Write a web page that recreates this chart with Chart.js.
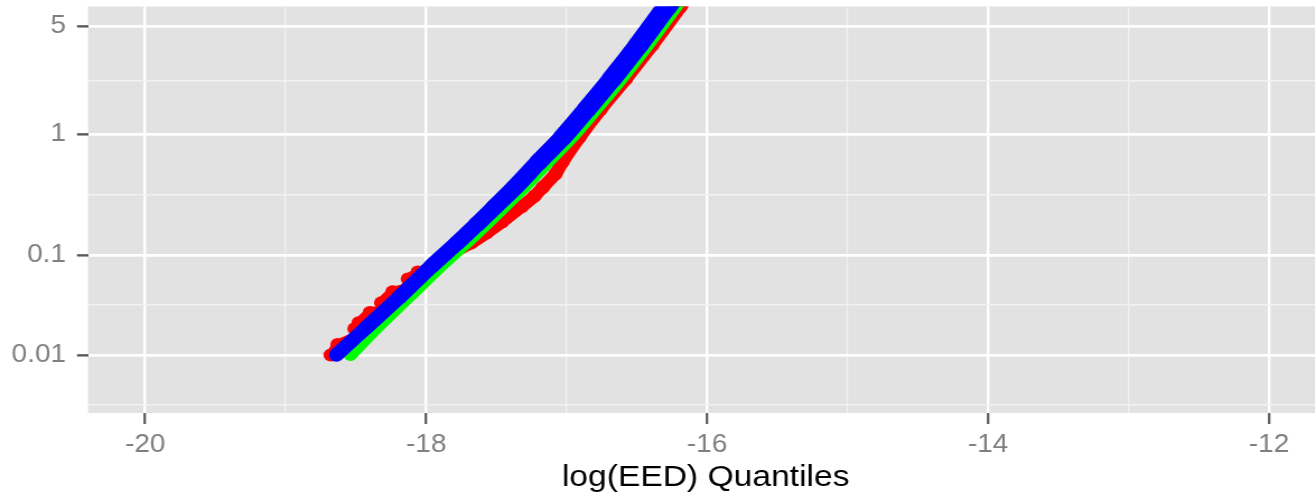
<!DOCTYPE html>
<html><head><meta charset="utf-8">
<script src="https://cdn.jsdelivr.net/npm/chart.js@4"></script>
<style>
html,body{margin:0;padding:0;background:#fff;overflow:hidden;width:1315px;height:496px;}
#wrap{width:1188px;height:496px;transform:scaleX(1.12);transform-origin:0 0;}
canvas{display:block;}
</style></head><body>
<div id="wrap"><canvas id="c" width="1188" height="496"></canvas></div>
<script>
// Quantile levels (percent) shared by the blue and green series
const probLevels = [0.01, 0.02, 0.04, 0.08, 0.13, 0.19, 0.27, 0.39, 0.62, 0.95, 1.5, 2.4, 3.9, 6.4, 9.6];
const blueX  = [-18.64, -18.42, -18.19, -17.96, -17.78, -17.64, -17.51, -17.37, -17.20, -17.03, -16.86, -16.68, -16.49, -16.29, -16.11];
const greenX = [-18.54, -18.345, -18.125, -17.895, -17.715, -17.575, -17.445, -17.305, -17.135, -16.965, -16.795, -16.615, -16.425, -16.225, -16.045];
// Red series has its own (noisier) quantile levels
const redProb = [0.01, 0.013, 0.016, 0.019, 0.022, 0.028, 0.031, 0.035, 0.045, 0.05, 0.06, 0.07, 0.08, 0.1, 0.13, 0.16, 0.2, 0.27, 0.33, 0.39, 0.5, 0.62, 0.95, 1.5, 2.4, 3.9, 6.4, 9.6];
const redX    = [-18.68, -18.63, -18.50, -18.51, -18.48, -18.40, -18.28, -18.32, -18.24, -18.13, -18.13, -18.06, -17.96, -17.85, -17.68, -17.57, -17.46, -17.32, -17.23, -17.17, -17.08, -17.03, -16.91, -16.76, -16.58, -16.39, -16.19, -16.01];

const xTickValues = [-20, -18, -16, -14, -12];
const xTickLabels = ['-20', '-18', '-16', '-14', '-12'];
const yTickValues = [0.01, 0.1, 1, 5];
const yTickLabels = ['0.01', '0.1', '1', '5'];
const xTitle = 'log(EED) Quantiles';

// inverse normal CDF (probability-scale transform of the y axis)
function qnorm(p){
  const a=[-3.969683028665376e+01,2.209460984245205e+02,-2.759285104469687e+02,1.383577518672690e+02,-3.066479806614716e+01,2.506628277459239e+00];
  const b=[-5.447609879822406e+01,1.615858368580409e+02,-1.556989798598866e+02,6.680131188771972e+01,-1.328068155288572e+01];
  const c=[-7.784894002430293e-03,-3.223964580411365e-01,-2.400758277161838e+00,-2.549732539343734e+00,4.374664141464968e+00,2.938163982698783e+00];
  const d=[7.784695709041462e-03,3.224671290700398e-01,2.445134137142996e+00,3.754408661907416e+00];
  const plow=0.02425, phigh=1-plow; let q,r;
  if(p<plow){q=Math.sqrt(-2*Math.log(p));return (((((c[0]*q+c[1])*q+c[2])*q+c[3])*q+c[4])*q+c[5])/((((d[0]*q+d[1])*q+d[2])*q+d[3])*q+1);}
  if(p<=phigh){q=p-0.5;r=q*q;return (((((a[0]*r+a[1])*r+a[2])*r+a[3])*r+a[4])*r+a[5])*q/(((((b[0]*r+b[1])*r+b[2])*r+b[3])*r+b[4])*r+1);}
  q=Math.sqrt(-2*Math.log(1-p));return -(((((c[0]*q+c[1])*q+c[2])*q+c[3])*q+c[4])*q+c[5])/((((d[0]*q+d[1])*q+d[2])*q+d[3])*q+1);
}
const tz = p => qnorm(p/100);

const X_MIN = -20.4076, X_MAX = -11.6136;
const Y_MIN = -4.085, Y_MAX = -1.5188;

// tick lists: majors + ggplot-style minor midpoints
const xTicks = [];
xTickValues.forEach((v,i)=>{ xTicks.push({v, label:xTickLabels[i], major:true}); });
for(let i=0;i<xTickValues.length-1;i++){ xTicks.push({v:(xTickValues[i]+xTickValues[i+1])/2, label:'', major:false}); }
xTicks.sort((a,b)=>a.v-b.v);
const yMaj = yTickValues.map(tz);
const yTicks = yMaj.map((v,i)=>({v, label:yTickLabels[i], major:true}));
for(let i=0;i<yMaj.length-1;i++) yTicks.push({v:(yMaj[i]+yMaj[i+1])/2, label:'', major:false});
yTicks.push({v:yMaj[0]-(yMaj[1]-yMaj[0])/2, label:'', major:false});
yTicks.push({v:yMaj[yMaj.length-1]+(yMaj[yMaj.length-1]-yMaj[yMaj.length-2])/2, label:'', major:false});
const yTicksIn = yTicks.filter(t=>t.v>=Y_MIN && t.v<=Y_MAX).sort((a,b)=>a.v-b.v);

const toPts = (xs, ps) => xs.map((x,i)=>({x, y: tz(ps[i])}));

const bgPlugin = {
  id:'panelBg',
  beforeDraw(chart){
    const {ctx, chartArea:a} = chart;
    ctx.save(); ctx.fillStyle='#E2E2E2';
    ctx.fillRect(a.left, a.top, a.right-a.left, a.bottom-a.top);
    ctx.restore();
  }
};
const FONT = '"Liberation Sans", Arial, Helvetica, sans-serif';

new Chart(document.getElementById('c'), {
  type: 'scatter',
  data: {
    datasets: [
      { label:'blue', data: toPts(blueX, probLevels), showLine:true, order:0,
        borderColor:'#0000FF', backgroundColor:'#0000FF', pointRadius:0, tension:0.3,
        borderWidth:16, borderCapStyle:'round', borderJoinStyle:'round', clip:0,
        segment:{ borderWidth: ctx => 13.5 + ctx.p0DataIndex*0.42 } },
      { label:'green', data: toPts(greenX, probLevels), showLine:true, order:1,
        borderColor:'#00FF00', backgroundColor:'#00FF00', pointRadius:0, tension:0.3,
        borderWidth:12, borderCapStyle:'round', borderJoinStyle:'round', clip:0 },
      { label:'red', data: toPts(redX, redProb), showLine:true, order:2,
        borderColor:'#FF0000', backgroundColor:'#FF0000', pointRadius:6.5, pointBorderWidth:0,
        pointHoverRadius:6.5, tension:0.15,
        borderWidth:9, borderCapStyle:'round', borderJoinStyle:'round', clip:0,
        segment:{ borderWidth: ctx => ctx.p0DataIndex >= 13 ? 12 : 9 } }
    ]
  },
  options: {
    responsive:false, animation:false, devicePixelRatio:1,
    layout:{ padding:{ top:6, right:0, bottom:0, left:0 } },
    plugins:{ legend:{display:false}, tooltip:{enabled:false} },
    events:[],
    scales:{
      x:{ type:'linear', min:X_MIN, max:X_MAX,
        afterBuildTicks: s => { s.ticks = xTicks.map(t=>({value:t.v})); },
        afterFit: s => { s.height = 83; s.paddingLeft = 0; s.paddingRight = 0; },
        ticks:{ autoSkip:false, maxRotation:0, minRotation:0, padding:6, color:'#7F7F7F',
          font:{family:FONT, size:25}, callback:(v,i)=>xTicks[i] ? xTicks[i].label : '' },
        grid:{ drawTicks:true, tickLength:11,
          color: ctx => (xTicks[ctx.index] && xTicks[ctx.index].major) ? '#FFFFFF' : '#F2F2F2',
          lineWidth: ctx => (xTicks[ctx.index] && xTicks[ctx.index].major) ? 2.4 : 1.3,
          tickColor: ctx => (xTicks[ctx.index] && xTicks[ctx.index].major) ? '#5A5A5A' : 'rgba(0,0,0,0)',
          tickWidth: 2.2 },
        border:{ display:false },
        title:{ display:true, text:xTitle, color:'#000000', font:{family:FONT, size:30}, padding:{top:0, bottom:0} }
      },
      y:{ type:'linear', min:Y_MIN, max:Y_MAX,
        afterBuildTicks: s => { s.ticks = yTicksIn.map(t=>({value:t.v})); },
        afterFit: s => { s.width = 88/1.12; s.paddingTop = 0; s.paddingBottom = 0; },
        ticks:{ autoSkip:false, padding:9.8, color:'#7F7F7F', font:{family:FONT, size:25},
          callback:(v,i)=>yTicksIn[i] ? yTicksIn[i].label : '' },
        grid:{ drawTicks:true, tickLength:9.8,
          color: ctx => (yTicksIn[ctx.index] && yTicksIn[ctx.index].major) ? '#FFFFFF' : '#F2F2F2',
          lineWidth: ctx => (yTicksIn[ctx.index] && yTicksIn[ctx.index].major) ? 2.7 : 1.5,
          tickColor: ctx => (yTicksIn[ctx.index] && yTicksIn[ctx.index].major) ? '#5A5A5A' : 'rgba(0,0,0,0)',
          tickWidth: 2.4 },
        border:{ display:false }
      }
    }
  },
  plugins:[bgPlugin]
});
</script>
</body></html>
